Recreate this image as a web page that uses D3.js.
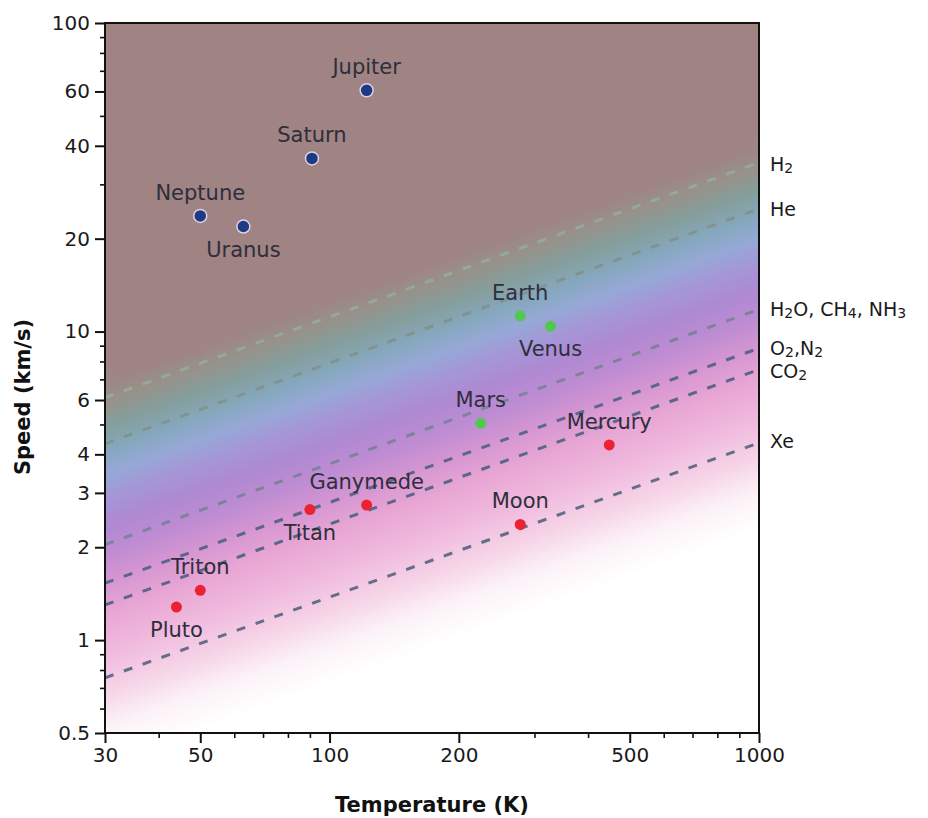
<!DOCTYPE html>
<html><head><meta charset="utf-8">
<script src="https://cdn.jsdelivr.net/npm/d3@7"></script>
<style>
body{margin:0;background:#fff}
svg{display:block}
text{font-family:"DejaVu Sans",Verdana,sans-serif}
</style>
</head><body>
<svg id="c" width="928" height="818"></svg>
<script>
// ---------- data ----------
const planetNames  = ["Jupiter","Saturn","Neptune","Uranus","Earth","Venus","Mars","Mercury","Moon","Ganymede","Titan","Triton","Pluto"];
const planetTemps  = [122, 91, 50, 63, 278, 327, 225, 448, 278, 122, 90, 50, 44];
const planetSpeeds = [60.5, 36.4, 23.7, 21.9, 11.25, 10.4, 5.04, 4.29, 2.37, 2.74, 2.65, 1.45, 1.28];
const planetKinds  = ["giant","giant","giant","giant","rocky","rocky","rocky","small","small","small","small","small","small"];

const gasNames       = ["H_2","He","H_2O, CH_4, NH_3","O_2,N_2","CO_2","Xe"];
const gasTempRange   = [30, 1000];
const gasSpeedAt30   = [6.11, 4.33, 2.04, 1.53, 1.30, 0.755];
const gasSpeedAt1000 = [35.3, 25.0, 11.8, 8.83, 7.53, 4.36];

const xMajorTicks = [30, 50, 100, 200, 500, 1000];
const xMinorTicks = [40, 60, 70, 80, 90, 300, 400, 600, 700, 800, 900];
const yMajorTicks = [0.5, 1, 2, 3, 4, 6, 10, 20, 40, 60, 100];
const yMinorTicks = [0.6, 0.7, 0.8, 0.9, 5, 7, 8, 9, 30, 50, 70, 80, 90];

// ---------- styles ----------
const kindFill   = {giant:"#1d3a85", rocky:"#52c84f", small:"#ec2232"};
const kindRadius = {giant:6.5, rocky:5.5, small:5.5};
const labelBelow = new Set(["Uranus","Venus","Titan","Pluto"]);
const gasLineColors = ["#95a89e","#80938f","#80829d","#5a6789","#5a6789","#646e8a"];
const gasLabelNudge = [8, 7, 7, 7, 8, 5];
// background colour bands, keyed by the equivalent speed at 1000 K
const bgStopSpeeds = [100, 45, 39, 34, 28.5, 23.5, 20, 16.6, 13.8, 11, 8.8, 7.0, 5.2, 3.9, 3.0, 2.3, 1];
const bgStopColors = ["rgb(160,131,131)","rgb(160,131,131)","rgb(158,134,132)","rgb(150,146,138)","rgb(133,158,156)",
  "rgb(134,168,190)","rgb(150,168,214)","rgb(165,150,215)","rgb(174,137,210)","rgb(190,140,210)","rgb(214,150,210)",
  "rgb(232,166,212)","rgb(240,186,222)","rgb(246,212,231)","rgb(252,242,247)","rgb(255,255,255)","rgb(255,255,255)"];

// ---------- chart ----------
const svg = d3.select("#c");
const x = d3.scaleLog().domain([30, 1000]).range([105, 759]);
const y = d3.scaleLog().domain([0.5, 100]).range([733, 23]);
const [x0, x1] = x.range();
const [y0, y1] = y.range();

const defs = svg.append("defs");
defs.append("clipPath").attr("id","plotclip").append("rect")
  .attr("x", x0).attr("y", y1).attr("width", x1 - x0).attr("height", y0 - y1);

// gradient perpendicular to the v ~ sqrt(T) lines
const vTop = bgStopSpeeds[0], vBot = bgStopSpeeds[bgStopSpeeds.length - 1];
const slope = (y(1) - y(Math.sqrt(10))) / (x(300) - x(30));
const P1 = [x(1000), y(vTop)];
const dY = y(vBot) - y(vTop);
const k = dY / (1 + slope * slope);
const P2 = [P1[0] + k * slope, P1[1] + k];
const grad = defs.append("linearGradient").attr("id","bg")
  .attr("gradientUnits","userSpaceOnUse")
  .attr("x1", P1[0]).attr("y1", P1[1]).attr("x2", P2[0]).attr("y2", P2[1]);
const lt = Math.log(vTop), lb = Math.log(vBot);
bgStopSpeeds.forEach((v, i) => {
  grad.append("stop").attr("offset", (lt - Math.log(v)) / (lt - lb)).attr("stop-color", bgStopColors[i]);
});

const plot = svg.append("g").attr("clip-path","url(#plotclip)");
plot.append("rect").attr("x", x0).attr("y", y1).attr("width", x1 - x0).attr("height", y0 - y1)
  .attr("fill","url(#bg)");

// gas threshold lines
const line = d3.line().x(d => x(d[0])).y(d => y(d[1]));
gasNames.forEach((g, i) => {
  plot.append("path")
    .attr("d", line([[gasTempRange[0], gasSpeedAt30[i]], [gasTempRange[1], gasSpeedAt1000[i]]]))
    .attr("fill","none").attr("stroke", gasLineColors[i]).attr("stroke-width", 3)
    .attr("stroke-dasharray","9,11").attr("stroke-linecap","butt");
});

// planets
const planets = planetNames.map((n, i) => ({name:n, t:planetTemps[i], v:planetSpeeds[i], kind:planetKinds[i]}));
svg.append("g").selectAll("circle").data(planets).join("circle")
  .attr("cx", d => x(d.t)).attr("cy", d => y(d.v))
  .attr("r", d => kindRadius[d.kind])
  .attr("fill", d => kindFill[d.kind])
  .attr("stroke", d => d.kind === "giant" ? "#ddd3e2" : "none")
  .attr("stroke-width", 1.5);
svg.append("g").selectAll("text").data(planets).join("text")
  .attr("x", d => x(d.t)).attr("y", d => y(d.v) + (labelBelow.has(d.name) ? 30 : -16))
  .attr("text-anchor","middle").attr("font-size", 21).attr("fill","#2e2e3c")
  .text(d => d.name);

// frame
svg.append("rect").attr("x", x0).attr("y", y1).attr("width", x1 - x0).attr("height", y0 - y1)
  .attr("fill","none").attr("stroke","#111").attr("stroke-width", 2);

// axes
function styleAxis(g, w){
  g.select(".domain").remove();
  g.selectAll("line").attr("stroke","#111").attr("stroke-width", w);
  g.selectAll("text").attr("font-size", 20).attr("fill","#1a1a1a")
    .attr("font-family","'DejaVu Sans',Verdana,sans-serif");
}
const fmt = d3.format("~g");
svg.append("g").attr("transform",`translate(0,${y0})`)
  .call(d3.axisBottom(x).tickValues(xMajorTicks).tickFormat(fmt).tickSize(10).tickPadding(5))
  .call(g => styleAxis(g, 2));
svg.append("g").attr("transform",`translate(0,${y0})`)
  .call(d3.axisBottom(x).tickValues(xMinorTicks).tickFormat("").tickSize(5))
  .call(g => styleAxis(g, 1.6));
svg.append("g").attr("transform",`translate(${x0},0)`)
  .call(d3.axisLeft(y).tickValues(yMajorTicks).tickFormat(fmt).tickSize(10).tickPadding(5))
  .call(g => styleAxis(g, 2));
svg.append("g").attr("transform",`translate(${x0},0)`)
  .call(d3.axisLeft(y).tickValues(yMinorTicks).tickFormat("").tickSize(5))
  .call(g => styleAxis(g, 1.6));

// gas labels with subscripts
function richText(sel, str){
  const parts = str.split(/_(\d)/);
  let lowered = false;
  parts.forEach((p, i) => {
    if (p === "") return;
    const t = sel.append("tspan").text(p);
    if (i % 2 === 1) { t.attr("font-size", 14).attr("dy", lowered ? 0 : 2); lowered = true; }
    else { t.attr("dy", lowered ? -2 : 0); lowered = false; }
  });
}
gasNames.forEach((g, i) => {
  const t = svg.append("text").attr("x", x1 + 11).attr("y", y(gasSpeedAt1000[i]) + gasLabelNudge[i])
    .attr("font-size", 19).attr("fill","#1a1a1a");
  richText(t, g);
});

// axis titles
svg.append("text").attr("x", (x0 + x1) / 2).attr("y", 812).attr("text-anchor","middle")
  .attr("font-size", 21).attr("font-weight","bold").attr("fill","#111").text("Temperature (K)");
svg.append("text").attr("transform","translate(30,397) rotate(-90)").attr("text-anchor","middle")
  .attr("font-size", 21).attr("font-weight","bold").attr("fill","#111").text("Speed (km/s)");
</script>
</body></html>
